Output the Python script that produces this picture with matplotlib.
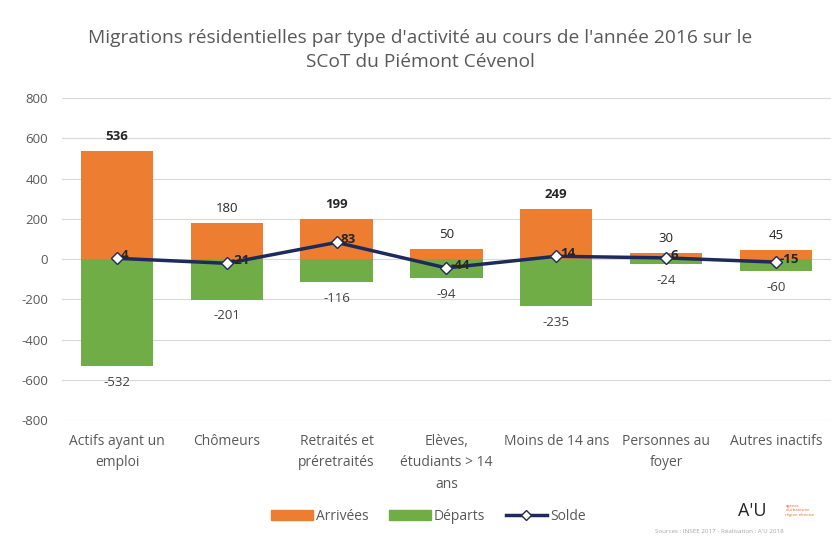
import matplotlib
matplotlib.use("Agg")
import matplotlib.pyplot as plt
from matplotlib.lines import Line2D
from matplotlib.patches import Patch

categories = ["Actifs ayant un\nemploi", "Chômeurs", "Retraités et\npréretraités",
              "Elèves,\nétudiants > 14\nans", "Moins de 14 ans", "Personnes au\nfoyer",
              "Autres inactifs"]
arrivees = [536, 180, 199, 50, 249, 30, 45]
departs = [-532, -201, -116, -94, -235, -24, -60]
solde = [4, -21, 83, -44, 14, 6, -15]
yticks = [-800, -600, -400, -200, 0, 200, 400, 600, 800]

plt.rcParams['font.family'] = ['Open Sans', 'DejaVu Sans']
grey = "#595959"

fig = plt.figure(figsize=(8.4, 5.37), dpi=100)
ax = fig.add_axes([0.074, 0.218, 0.915, 0.599])
x = list(range(len(categories)))
ax.bar(x, arrivees, width=0.66, color="#ED7D31", zorder=2)
ax.bar(x, departs, width=0.66, color="#70AD47", zorder=2)
ax.plot(x, solde, color="#1F2A5C", lw=2.5, marker="D", ms=6,
        markerfacecolor="white", markeredgecolor="#1F2A5C", markeredgewidth=1, zorder=3)

ax.set_ylim(-800, 800)
ax.set_xlim(-0.5, len(categories) - 0.5)
ax.set_yticks(yticks)
ax.set_yticklabels([str(v) for v in yticks])
ax.yaxis.grid(True, color="#D9D9D9", lw=0.8, zorder=0)
ax.set_axisbelow(True)
for s in ax.spines.values():
    s.set_visible(False)
ax.tick_params(axis="y", length=0, labelsize=9.5, labelcolor=grey, pad=10)
ax.tick_params(axis="x", length=0, labelsize=10, labelcolor=grey, pad=10)
ax.set_xticks(x)
ax.set_xticklabels(categories, va="top", linespacing=1.6)

for i in x:
    ax.annotate(str(arrivees[i]), (i, arrivees[i]), xytext=(0, 6), textcoords="offset points",
                ha="center", va="bottom", fontsize=9.5, color="#262626",
                fontweight="bold" if i in (0, 2, 4) else "normal")
    ax.annotate(str(departs[i]), (i, departs[i]), xytext=(0, -7), textcoords="offset points",
                ha="center", va="top", fontsize=9.5, color="#404040")
    ax.annotate(str(solde[i]), (i, solde[i]), xytext=(3, 2), textcoords="offset points",
                ha="left", va="center", fontsize=9.5, color="#262626", fontweight="bold")

fig.text(0.5, 0.907, "Migrations résidentielles par type d'activité au cours de l'année 2016 sur le\nSCoT du Piémont Cévenol",
         ha="center", va="center", fontsize=13.8, color=grey, linespacing=1.45)

handles = [Patch(color="#ED7D31", label="Arrivées"),
           Patch(color="#70AD47", label="Départs"),
           Line2D([0], [0], color="#1F2A5C", lw=2.5, marker="D", ms=5,
                  markerfacecolor="white", label="Solde")]
fig.legend(handles=handles, loc="center", bbox_to_anchor=(0.51, 0.038), ncol=3, frameon=False,
           fontsize=10, labelcolor=grey, handlelength=3, handleheight=0.7, columnspacing=1.5,
           handletextpad=0.2)

fig.text(0.895, 0.048, "A'U", ha="center", va="center", fontsize=13, color="#262626")
fig.text(0.935, 0.05, "agence\nd'urbanisme\nrégion nîmoise", ha="left", va="center", fontsize=3,
         color="#E46C2C", linespacing=1.2)
fig.text(0.78, 0.005, "Sources : INSEE 2017 - Réalisation : A'U 2018", ha="left", va="bottom",
         fontsize=4.5, color="#A6A6A6")

fig.savefig("out.png", dpi=100, facecolor="white")
